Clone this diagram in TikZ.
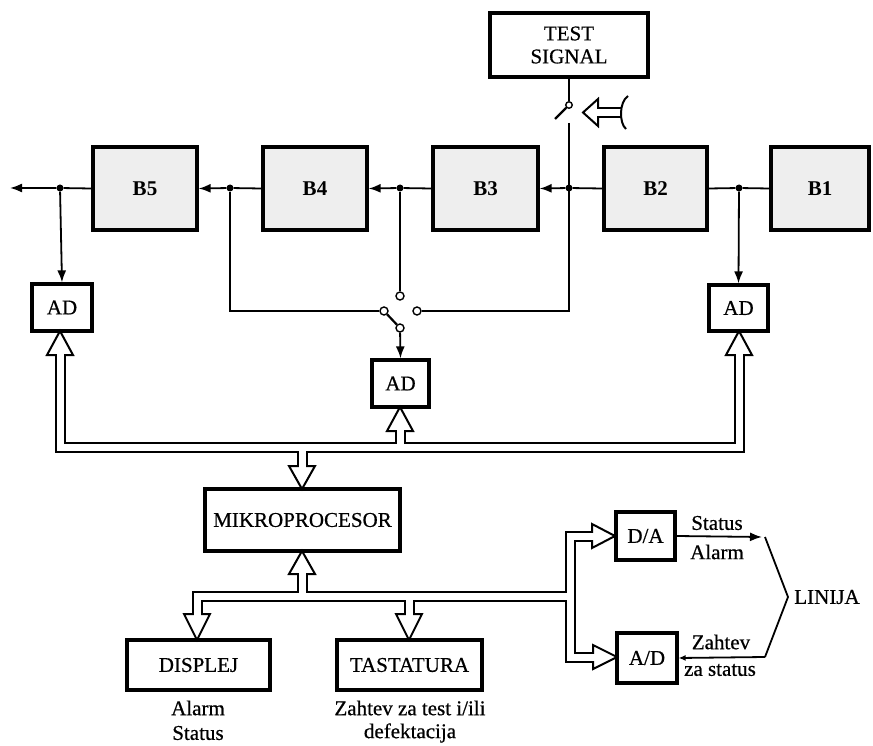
\documentclass[tikz,border=0pt]{standalone}
\usepackage{fontspec}
\setmainfont{Liberation Serif}
\newfontfamily\printfont{Liberation Serif}[FakeBold=0.6]
\usetikzlibrary{arrows.meta}

\begin{document}
\begin{tikzpicture}[x=1pt,y=-1pt,
  txt/.style={inner sep=0pt,font=\fontsize{21}{25}\selectfont\printfont},
  blk/.style={draw,line width=3.2pt,fill=gray!13,minimum height=83pt,inner sep=0pt,
              font=\fontsize{21}{25}\selectfont\bfseries},
  box/.style={draw,line width=3.2pt,fill=white,inner sep=0pt,font=\fontsize{21}{25}\selectfont\printfont},
  sig/.style={line width=1.8pt},
  sarr/.style={sig,-{Latex[length=12pt,width=9pt]}},
  smallarr/.style={sig,-{Latex[length=7pt,width=6pt]}},
  jdot/.style={circle,fill,inner sep=0pt,minimum size=7pt},
  contact/.style={circle,draw,line width=1.4pt,fill=white,inner sep=0pt,minimum size=8pt},
  busout/.style={line width=11pt,line join=miter},
  busin/.style={white,line width=7pt,line join=miter},
  head/.style={draw,line width=2pt,fill=white,line join=miter}
]
\useasboundingbox (0,0) rectangle (873,746);

% ---- blocks ----
\node[box,minimum width=158pt,minimum height=64pt,align=center] (test) at (569,45) {TEST\\[-2pt]SIGNAL};
\node[blk,minimum width=104pt] (b5) at (145,188.5) {B5};
\node[blk,minimum width=104pt] (b4) at (315,188.5) {B4};
\node[blk,minimum width=105pt] (b3) at (485.5,188.5) {B3};
\node[blk,minimum width=103pt] (b2) at (655.5,188.5) {B2};
\node[blk,minimum width=98pt] (b1) at (820,188.5) {B1};

\node[box,minimum width=60pt,minimum height=47pt] (adl) at (62,307.5) {AD};
\node[box,minimum width=57pt,minimum height=47pt] (adm) at (400.5,383.5) {AD};
\node[box,minimum width=59pt,minimum height=46pt] (adr) at (738.5,308) {AD};

\node[box,minimum width=195pt,minimum height=62pt] (mp) at (302.5,520) {MIKROPROCESOR};
\node[box,minimum width=143pt,minimum height=50pt] (disp) at (198.5,665) {DISPLEJ};
\node[box,minimum width=145pt,minimum height=50pt] (tast) at (409.5,665) {TASTATURA};
\node[box,minimum width=59pt,minimum height=48pt] (da) at (645.5,536) {D/A};
\node[box,minimum width=60pt,minimum height=50pt] (ad) at (647,658) {A/D};

% ---- signal chain ----
\coordinate (out) at (10,188);
\node[jdot] (j5) at (60,188) {};
\node[jdot] (j4) at (230,188) {};
\node[jdot] (j3) at (400,188) {};
\node[jdot] (j2) at (569,188) {};
\node[jdot] (j1) at (739,188) {};

\draw[sig] (b1.west) -- (j1) -- (b2.east);
\draw[sarr] (b2.west) -- (j2) -- (b3.east);
\draw[sarr] (b3.west) -- (j3) -- (b4.east);
\draw[sarr] (b4.west) -- (j4) -- (b5.east);
\draw[sarr] (b5.west) -- (j5) -- (out);

\draw[sarr] (j5) -- (adl.north);
\draw[sarr] (j1) -- (adr.north);

% ---- selector switch ----
\node[contact] (cl) at (384,311) {};
\node[contact] (ct) at (400,296) {};
\node[contact] (cr) at (417,311) {};
\node[contact] (cb) at (400,328) {};
\draw[sig] (j4) -- (230,311) -- (cl);
\draw[sig] (j3) -- (ct);
\draw[line width=2.2pt] (cl) -- (cb);
\draw[sarr] (cb) -- (adm.north);

% ---- test signal switch ----
\node[contact,minimum size=6.5pt] (ts) at (569,105) {};
\coordinate (tsb) at (555,119);
\coordinate (tsl) at (569,123);
\draw[sig] (test.south) -- (ts);
\draw[line width=2.4pt] (ts) -- (tsb);
\draw[sig] (tsl) -- (569,311) -- (cr);

% hollow arrow with finger mark
\draw[busout] (598,112.5) -- (622,112.5);
\draw[head] (583,112.5) -- (598,99) -- (598,126) -- cycle;
\draw[busin] (596,112.5) -- (622,112.5);
\draw[line width=2pt] (628,96) .. controls (619,102) and (619,123) .. (626,129);

% ---- upper bus ----
\draw[busout] (60,355) -- (60,447.5) -- (739,447.5) -- (739,355);
\draw[busout] (400,431) -- (400,447.5);
\draw[busout] (302,447.5) -- (302,466);
\draw[head] (60,331) -- (47,355) -- (73,355) -- cycle;
\draw[head] (400,407) -- (387,431) -- (413,431) -- cycle;
\draw[head] (739,331) -- (726,355) -- (752,355) -- cycle;
\draw[head] (302,489) -- (289,466) -- (315,466) -- cycle;
\draw[busin] (60,353) -- (60,447.5) -- (739,447.5) -- (739,353);
\draw[busin] (400,429) -- (400,447.5);
\draw[busin] (302,447.5) -- (302,468);

% ---- lower bus ----
\draw[busout] (197,614) -- (197,596) -- (570,596);
\draw[busout] (592,536) -- (570,536) -- (570,657) -- (593,657);
\draw[busout] (302,596) -- (302,574);
\draw[busout] (409,596) -- (409,614);
\draw[head] (302,551) -- (289,574) -- (315,574) -- cycle;
\draw[head] (197,640) -- (184,614) -- (210,614) -- cycle;
\draw[head] (409,640) -- (396,614) -- (422,614) -- cycle;
\draw[head] (615,536) -- (592,524) -- (592,548) -- cycle;
\draw[head] (617,657) -- (593,645) -- (593,669) -- cycle;
\draw[busin] (197,616) -- (197,596) -- (570,596);
\draw[busin] (594,536) -- (570,536) -- (570,657) -- (595,657);
\draw[busin] (302,596) -- (302,572);
\draw[busin] (409,596) -- (409,616);

% ---- line interface ----
\coordinate (lt) at (765,537);
\coordinate (lm) at (788,597);
\coordinate (lb) at (765,657);
\draw[sarr] (da.east) -- (762,537);
\draw[sig] (lt) -- (lm) -- (lb);
\draw[smallarr] (lb) -- (ad.east);
\node[txt] (linija) at (827,597) {LINIJA};
\node[txt] (st1) at (717,523) {Status};
\node[txt] (al1) at (717,552) {Alarm};
\node[txt] (zs1) at (721,642) {Zahtev};
\node[txt] (zs2) at (720,670) {za status};

% ---- captions ----
\node[txt] (al2) at (198,708) {Alarm};
\node[txt] (st2) at (198,733) {Status};
\node[txt] (zt) at (410,708) {Zahtev za test i/ili};
\node[txt] (df) at (410,733) {defektacija};
\end{tikzpicture}
\end{document}
